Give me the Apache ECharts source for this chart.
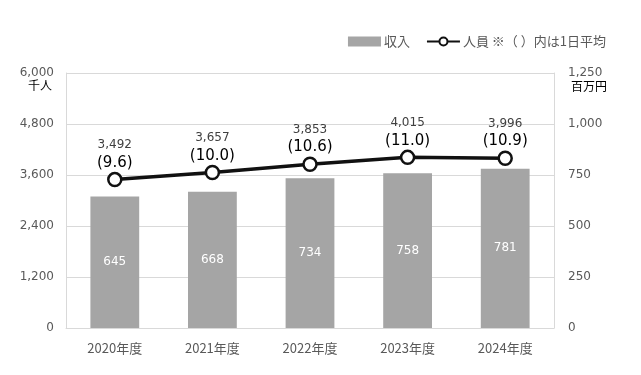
<!DOCTYPE html>
<html><head><meta charset="utf-8">
<script src="https://cdn.jsdelivr.net/npm/echarts@6/dist/echarts.min.js"></script>
<style>html,body{margin:0;padding:0;background:#fff}#c{width:641px;height:375px}</style>
</head><body><div id="c"></div>
<script>
const categories = ['2020年度','2021年度','2022年度','2023年度','2024年度'];
const revenue = [645, 668, 734, 758, 781];
const staff = [3492, 3657, 3853, 4015, 3996];
const staffDaily = ['9.6','10.0','10.6','11.0','10.9'];
const leftTicks = [0, 1200, 2400, 3600, 4800, 6000];
const rightTicks = [0, 250, 500, 750, 1000, 1250];

const numFont = "'DejaVu Sans', 'Noto Sans CJK JP', sans-serif";
const jpFont = "'Noto Sans CJK JP', sans-serif";
const chart = echarts.init(document.getElementById('c'), null, {renderer:'canvas'});
chart.setOption({
  animation: false,
  backgroundColor: '#fff',
  textStyle: {fontFamily: jpFont},
  legend: {
    top: 30, right: 30, itemGap: 16,
    textStyle: {fontFamily: jpFont, fontSize: 13, color: '#595959', padding: [0,0,0,-2]},
    data: [
      {name: '収入', icon: 'rect', itemStyle: {color: '#a5a5a5'}},
      {name: '人員 ※（ ）内は1日平均'}
    ],
    itemWidth: 33, itemHeight: 10
  },
  grid: {left: 66, right: 87, top: 73, bottom: 47},
  xAxis: {
    type: 'category', data: categories,
    axisLine: {show: true, lineStyle: {color: '#d9d9d9'}},
    axisTick: {show: false},
    axisLabel: {fontFamily: jpFont, fontSize: 13, color: '#595959', margin: 14}
  },
  yAxis: [
    {type: 'value', min: leftTicks[0], max: leftTicks[leftTicks.length-1], interval: leftTicks[1]-leftTicks[0],
     axisLine: {show: true, lineStyle: {color: '#d9d9d9'}},
     splitLine: {lineStyle: {color: '#d9d9d9'}},
     axisLabel: {fontFamily: numFont, fontSize: 12, color: '#595959', margin: 12,
       formatter: v => v.toLocaleString('en-US')}},
    {type: 'value', min: rightTicks[0], max: rightTicks[rightTicks.length-1], interval: rightTicks[1]-rightTicks[0],
     axisLine: {show: true, lineStyle: {color: '#d9d9d9'}},
     splitLine: {show: false},
     axisLabel: {fontFamily: numFont, fontSize: 12, color: '#595959', margin: 14,
       formatter: v => v.toLocaleString('en-US')}}
  ],
  graphic: [
    {type: 'text', left: 28, top: 79, style: {text: '千人', font: "12px 'Noto Sans CJK JP'", fill: '#000'}},
    {type: 'text', left: 571, top: 80, style: {text: '百万円', font: "12px 'Noto Sans CJK JP'", fill: '#000'}}
  ],
  series: [
    {name: '収入', type: 'bar', yAxisIndex: 1, data: revenue, barWidth: '50%',
     itemStyle: {color: '#a5a5a5'},
     label: {show: true, position: 'inside', color: '#fff', fontFamily: numFont, fontSize: 12}},
    {name: '人員 ※（ ）内は1日平均', type: 'line', yAxisIndex: 0, data: staff,
     lineStyle: {color: '#111', width: 3.5}, itemStyle: {color: '#fff', borderColor: '#111', borderWidth: 2.5},
     symbol: 'circle', symbolSize: 13, z: 5,
     label: {show: true, position: 'top', distance: 0,
       formatter: p => '{a|' + staff[p.dataIndex].toLocaleString('en-US') + '}\n{b|(' + staffDaily[p.dataIndex] + ')}',
       rich: {a: {fontFamily: numFont, fontSize: 12, color: '#404040', lineHeight: 17, align: 'center'},
              b: {fontFamily: numFont, fontSize: 15, color: '#000', lineHeight: 18, align: 'center'}}}}
  ]
});
</script></body></html>
